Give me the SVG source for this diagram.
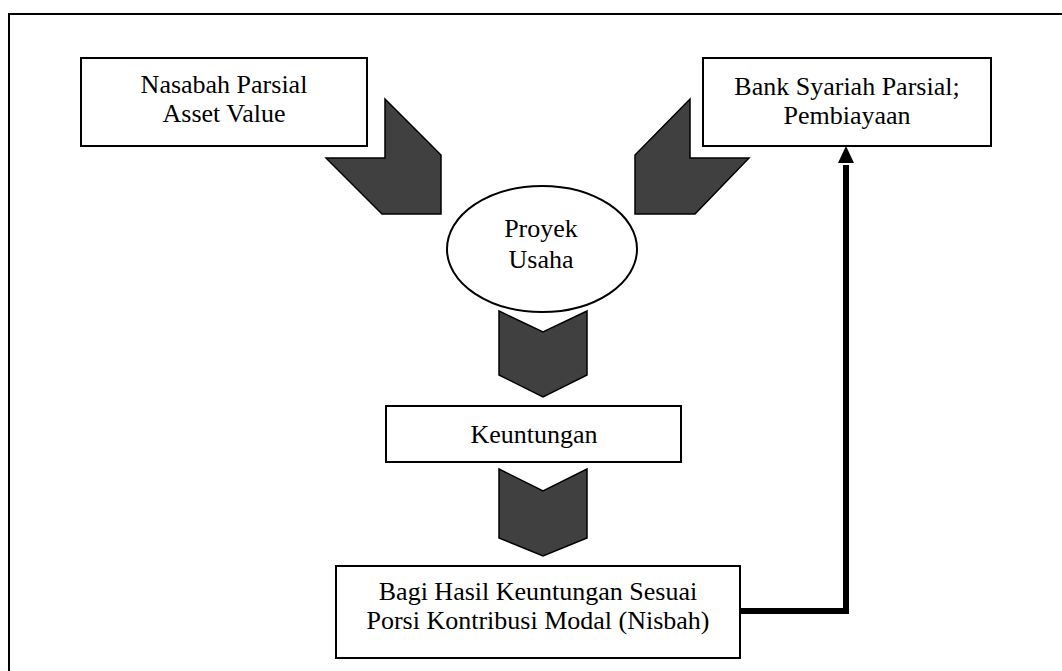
<svg xmlns="http://www.w3.org/2000/svg" width="1062" height="671" viewBox="0 0 1062 671">
<style>
.box{fill:#fff;stroke:#000;stroke-width:2}
.blk{fill:#404040;stroke:#000;stroke-width:1.5;stroke-linejoin:miter}
.t{font-family:"Liberation Serif","Times New Roman",serif;font-size:26px;fill:#000;text-anchor:middle}
.con{fill:none;stroke:#000;stroke-width:6;stroke-linejoin:miter}
</style>
<defs>
<marker id="ah" markerWidth="3" markerHeight="3" refX="1.2" refY="1.5" orient="auto" markerUnits="strokeWidth">
<path d="M0,0 L3,1.5 L0,3 z" fill="#000"/>
</marker>
</defs>
<rect width="1062" height="671" fill="#fff"/>
<rect x="9" y="14" width="1100" height="700" fill="none" stroke="#000" stroke-width="2"/>
<g id="nasabah">
<rect class="box" x="81" y="58" width="286" height="88"/>
<text class="t" x="224" y="93">Nasabah Parsial</text>
<text class="t" x="224" y="122">Asset Value</text>
</g>
<g id="bank">
<rect class="box" x="703" y="58" width="288" height="88"/>
<text class="t" x="847" y="95">Bank Syariah Parsial;</text>
<text class="t" x="847" y="124">Pembiayaan</text>
</g>
<g id="arrow-left">
<polygon class="blk" points="385,99 441,155 441,214 382,214 326,158 385,158"/>
</g>
<g id="arrow-right">
<polygon class="blk" points="690,99 690,158 749,158 695,214 635,214 635,155"/>
</g>
<g id="proyek">
<ellipse cx="542" cy="249" rx="95" ry="63" fill="#fff" stroke="#000" stroke-width="2"/>
<text class="t" x="541" y="237">Proyek</text>
<text class="t" x="541" y="268">Usaha</text>
</g>
<g id="arrow-down-1">
<polygon class="blk" points="499,311 543,332 587,311 587,375 543,397 499,375"/>
</g>
<g id="keuntungan">
<rect class="box" x="386" y="406" width="295" height="56"/>
<text class="t" x="534" y="443">Keuntungan</text>
</g>
<g id="arrow-down-2">
<polygon class="blk" points="499,469 543,491 587,469 587,538 543,556 499,538"/>
</g>
<g id="bagi-hasil">
<rect class="box" x="336" y="566" width="404" height="92"/>
<text class="t" x="538" y="600">Bagi Hasil Keuntungan Sesuai</text>
<text class="t" x="538" y="629">Porsi Kontribusi Modal (Nisbah)</text>
</g>
<g id="connectors">
<polyline class="con" points="740,611 846,611 846,165"/>
<polygon points="846,146 854,163 838,163" fill="#000"/>
</g>
</svg>
